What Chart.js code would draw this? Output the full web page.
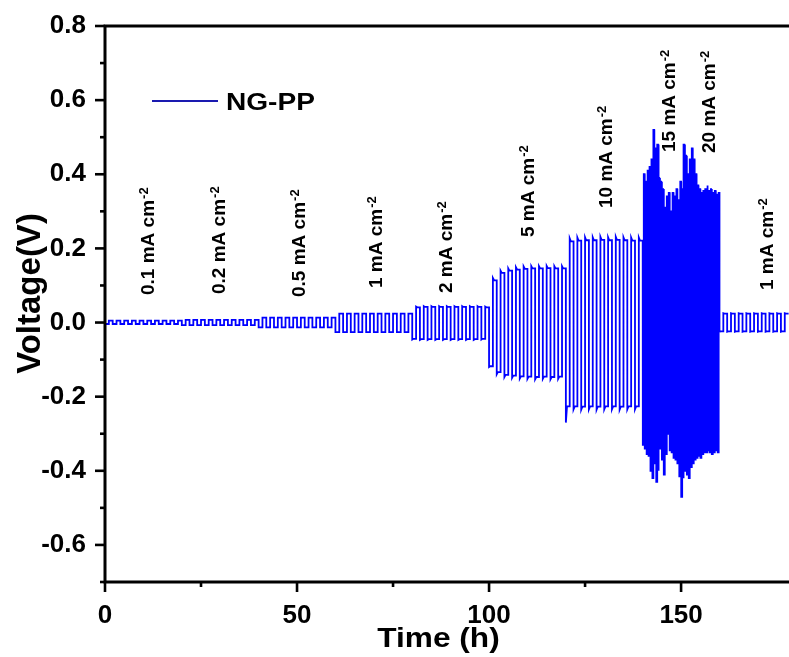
<!DOCTYPE html>
<html><head><meta charset="utf-8">
<script src="https://cdn.jsdelivr.net/npm/chart.js@4/dist/chart.umd.min.js"></script>
<style>html,body{margin:0;padding:0;background:#fff}#wrap{width:789px;height:657px;position:relative}</style>
</head><body><div id="wrap"><canvas id="c" width="789" height="657"></canvas></div>
<script>
// ---- data ----
const currentDensities = ['0.1','0.2','0.5','1','2','5','10','15','20','1'];   // mA cm-2
const segStart   = [0, 20, 40, 60, 80, 100, 120, 140, 150, 160];                  // h
const halfCycleH = [1, 1, 1, 1, 1, 1, 1, 0.25, 0.25, 1];                           // h per half cycle
const startV     = [-0.005, -0.007, -0.013, -0.026, -0.046, -0.12, -0.27, -0.33, -0.47, -0.025];
const overshoot  = [0, 0, 0, 0, 0.002, 0.006, 0.008, 0, 0, 0.001];

const pos01 = [0.005,0.005,0.005,0.005,0.005,0.005,0.005,0.005,0.005,0.005];
const neg01 = [-0.004,-0.004,-0.004,-0.004,-0.004,-0.004,-0.004,-0.004,-0.004,-0.004];
const pos02 = [0.007,0.007,0.007,0.007,0.007,0.007,0.007,0.007,0.007,0.007];
const neg02 = [-0.007,-0.007,-0.007,-0.007,-0.007,-0.007,-0.007,-0.007,-0.007,-0.007];
const pos05 = [0.013,0.013,0.013,0.013,0.013,0.013,0.013,0.013,0.013,0.013];
const neg05 = [-0.013,-0.013,-0.013,-0.013,-0.013,-0.013,-0.013,-0.013,-0.013,-0.013];
const pos1  = [0.024,0.024,0.024,0.024,0.024,0.024,0.024,0.024,0.024,0.024];
const neg1  = [-0.026,-0.026,-0.026,-0.026,-0.026,-0.026,-0.026,-0.026,-0.026,-0.026];
const pos2  = [0.041,0.042,0.042,0.042,0.042,0.042,0.042,0.042,0.042,0.041];
const neg2  = [-0.044,-0.045,-0.045,-0.045,-0.045,-0.045,-0.045,-0.045,-0.045,-0.044];
const pos5  = [0.114,0.134,0.140,0.143,0.145,0.146,0.146,0.147,0.146,0.146];
const neg5  = [-0.118,-0.134,-0.141,-0.143,-0.145,-0.146,-0.147,-0.146,-0.147,-0.146];
const pos10 = [0.219,0.221,0.222,0.222,0.223,0.222,0.223,0.222,0.221,0.221];
const neg10 = [-0.226,-0.226,-0.227,-0.226,-0.227,-0.226,-0.226,-0.227,-0.226,-0.226];
const pos15 = [0.40,0.38,0.41,0.42,0.44,0.52,0.47,0.48,0.39,0.38,0.36,0.31,0.34,0.35,0.30,0.35,0.34,0.36,0.33,0.38];
const neg15 = [-0.33,-0.34,-0.355,-0.36,-0.40,-0.42,-0.38,-0.43,-0.40,-0.34,-0.37,-0.41,-0.355,-0.30,-0.345,-0.35,-0.365,-0.37,-0.38,-0.415];
const pos20 = [0.36,0.48,0.45,0.40,0.44,0.47,0.44,0.40,0.37,0.36,0.35,0.355,0.36,0.37,0.355,0.36,0.35,0.355,0.345,0.35];
const neg20 = [-0.47,-0.42,-0.40,-0.41,-0.42,-0.39,-0.38,-0.37,-0.365,-0.36,-0.365,-0.355,-0.35,-0.35,-0.345,-0.35,-0.355,-0.35,-0.345,-0.35];
const pos1b = [0.024,0.024,0.024,0.024,0.024,0.024,0.024,0.024,0.024];
const neg1b = [-0.024,-0.024,-0.024,-0.024,-0.024,-0.024,-0.024,-0.024,-0.024];

const xTickLabels = ['0','50','100','150'];
const yTickLabels = ['-0.6','-0.4','-0.2','0.0','0.2','0.4','0.6','0.8'];
const seriesName = 'NG-PP';

// ---- assemble trace ----
const posPeaks = [pos01,pos02,pos05,pos1,pos2,pos5,pos10,pos15,pos20,pos1b];
const negPeaks = [neg01,neg02,neg05,neg1,neg2,neg5,neg10,neg15,neg20,neg1b];
const trace = [];
for (let s = 0; s < segStart.length; s++) {
  let t = segStart[s];
  const h = halfCycleH[s], o = overshoot[s], P = posPeaks[s], N = negPeaks[s];
  const dt = h * 0.3;
  for (let c = 0; c < P.length; c++) {
    trace.push({x: t, y: c === 0 ? startV[s] : N[c] - o});
    trace.push({x: t + dt, y: N[c]});
    trace.push({x: t + h, y: N[c]});
    trace.push({x: t + h, y: P[c] + o});
    trace.push({x: t + h + dt, y: P[c]});
    trace.push({x: t + 2 * h, y: P[c]});
    t += 2 * h;
  }
}

const FONT = '"Liberation Sans", Arial, Helvetica, sans-serif';
const labelPos = [[147,295],[218,294],[298,297],[375,288],[445,293],[527,237],[605,208],[668,152],[708,153],[766,290]];

const deco = {
  id: 'deco',
  afterDatasetsDraw(chart) {
    const {ctx, chartArea: a, scales: {x, y}} = chart;
    ctx.save();
    ctx.strokeStyle = '#000';
    ctx.lineWidth = 3;
    ctx.lineCap = 'square';
    ctx.beginPath();
    ctx.moveTo(a.right + 2, a.top); ctx.lineTo(a.left, a.top);
    ctx.lineTo(a.left, a.bottom); ctx.lineTo(a.right + 2, a.bottom);
    ctx.stroke();
    ctx.lineCap = 'butt';
    ctx.lineWidth = 2.6;
    y.ticks.forEach(tk => {
      const k = Math.round(tk.value * 10);
      if (Math.abs(tk.value * 10 - k) > 1e-6) return;
      const len = (Math.abs(k) % 2 === 0) ? 10 : 5;
      const py = y.getPixelForValue(tk.value);
      ctx.beginPath(); ctx.moveTo(a.left, py); ctx.lineTo(a.left - len, py); ctx.stroke();
    });
    x.ticks.forEach(tk => {
      const v = tk.value;
      if (Math.abs(v / 25 - Math.round(v / 25)) > 1e-6) return;
      const len = (Math.round(v / 25) % 2 === 0) ? 10 : 5;
      const px = x.getPixelForValue(v);
      ctx.beginPath(); ctx.moveTo(px, a.bottom); ctx.lineTo(px, a.bottom + len); ctx.stroke();
    });
    // legend
    ctx.strokeStyle = '#1a1ab0';
    ctx.lineWidth = 2;
    ctx.beginPath(); ctx.moveTo(152, 101); ctx.lineTo(218, 101); ctx.stroke();
    ctx.fillStyle = '#000';
    ctx.save();
    ctx.translate(226, 110); ctx.scale(1.17, 1);
    ctx.font = 'bold 24px ' + FONT; ctx.textBaseline = 'alphabetic'; ctx.textAlign = 'left';
    ctx.fillText(seriesName, 0, 0);
    ctx.restore();
    // x title
    ctx.save();
    ctx.translate(438.5, 647); ctx.scale(1.13, 1);
    ctx.font = 'bold 28px ' + FONT; ctx.textAlign = 'center'; ctx.textBaseline = 'alphabetic';
    ctx.fillText('Time (h)', 0, 0);
    ctx.restore();
    // y title
    ctx.save();
    ctx.translate(40, 293.5); ctx.rotate(-Math.PI / 2);
    ctx.font = 'bold 33px ' + FONT; ctx.textAlign = 'center'; ctx.textBaseline = 'alphabetic';
    ctx.fillText('Voltage(V)', 0, 0);
    ctx.restore();
    // current density annotations
    currentDensities.forEach((d, i) => {
      const [cx, sy] = labelPos[i];
      ctx.save();
      ctx.translate(cx + 6.8, sy); ctx.rotate(-Math.PI / 2);
      ctx.textAlign = 'left'; ctx.textBaseline = 'alphabetic';
      ctx.font = 'bold 19px ' + FONT;
      const main = d + ' mA cm';
      ctx.fillText(main, 0, 0);
      const w = ctx.measureText(main).width;
      ctx.font = 'bold 13px ' + FONT;
      ctx.fillText('-2', w + 1, -5.5);
      ctx.restore();
    });
    ctx.restore();
  }
};

new Chart(document.getElementById('c'), {
  type: 'line',
  data: { datasets: [{ label: seriesName, data: trace, borderColor: '#0000ff', borderWidth: 1.8,
    pointRadius: 0, tension: 0, fill: false }] },
  options: {
    responsive: false, animation: false, devicePixelRatio: 1,
    layout: { padding: { top: 26, right: 0, left: 0, bottom: 0 } },
    plugins: { legend: { display: false }, tooltip: { enabled: false } },
    scales: {
      x: {
        type: 'linear', min: 0, max: 178.1,
        grid: { display: false, drawTicks: false }, border: { display: false },
        ticks: { stepSize: 25, autoSkip: false, maxRotation: 0, padding: 18, color: '#000',
          font: { family: FONT, size: 26, weight: 'bold' },
          callback: v => { const i = xTickLabels.indexOf(String(Math.round(v))); return (Math.abs(v % 50) < 1e-6 && i >= 0) ? xTickLabels[i] : ''; } },
        afterFit: s => { s.height = 75; s.paddingLeft = 0; s.paddingRight = 0; }
      },
      y: {
        min: -0.7, max: 0.8,
        grid: { display: false, drawTicks: false }, border: { display: false },
        ticks: { stepSize: 0.1, autoSkip: false, padding: 19, color: '#000',
          font: { family: FONT, size: 26, weight: 'bold' },
          callback: v => { const k = Math.round(v * 10); if (k % 2 !== 0) return ''; const t = (k / 10).toFixed(1); return yTickLabels.includes(t) ? t : ''; } },
        afterFit: s => { s.width = 105; s.paddingTop = 0; s.paddingBottom = 0; }
      }
    }
  },
  plugins: [deco]
});
</script></body></html>
